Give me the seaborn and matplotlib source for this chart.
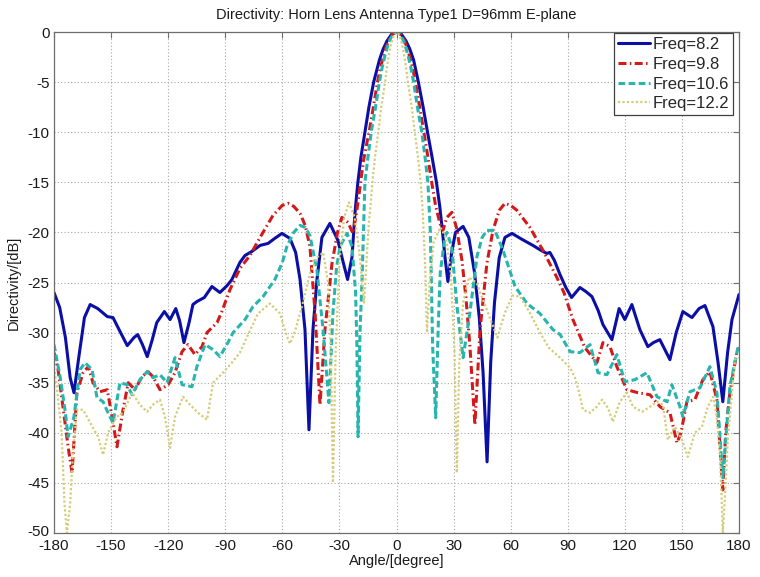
import matplotlib
matplotlib.use("Agg")
import matplotlib.pyplot as plt
import matplotlib.transforms as mtransforms
import seaborn as sns

# ---- E-plane directivity patterns (dB) of the horn lens antenna ----
angle_82 = [-180, -177, -174, -171.5, -169.5, -167, -164, -161, -157, -152, -149, -145, -141.5,
            -138, -136, -133.5, -131, -128.5, -126, -122, -119, -116, -114, -111.7, -109, -107,
            -104.9, -101, -97, -92.8, -89, -86.5, -82.3, -79.6, -76, -71.7, -67.5, -64, -60.2,
            -56, -53, -50.7, -48.1, -46, -43.9, -41.8, -39.2, -35, -30.8, -28, -25.7, -23.4,
            -21.8, -20.3, -18.7, -16.6, -14.5, -12, -9, -7, -5, -2.5, 0, 2.5, 5, 7, 9, 11.5, 14,
            16.3, 18.7, 21, 22.8, 24.2, 25.5, 27, 29, 31, 35, 38, 41, 43.5, 45.5, 47.6, 49.5, 51.5,
            54, 57, 60.7, 66, 71.7, 76, 79, 80.6, 83, 85.9, 89, 92, 96.4, 99.5, 102.7, 106, 108.5,
            113.2, 117, 120, 123.7, 127.9, 132.1, 135, 138.4, 143.7, 147, 150.5, 155.3, 159, 162.1,
            166.3, 169, 171.5, 174, 176.3, 180]
dir_82 = [-26.0, -27.5, -30.5, -34.5, -36.0, -32.5, -28.5, -27.2, -27.6, -28.4, -28.5, -30.0, -31.3,
          -30.5, -30.2, -31.2, -32.4, -30.8, -29.0, -27.9, -28.7, -27.6, -28.8, -31.0, -29.0, -27.2,
          -26.9, -26.5, -25.4, -26.0, -25.3, -24.7, -23.0, -22.3, -21.9, -21.3, -21.1, -20.6, -20.1,
          -20.6, -22.0, -24.7, -29.7, -39.7, -29.7, -24.7, -20.5, -19.1, -20.8, -23.0, -24.7, -22.5,
          -18.0, -15.0, -12.5, -10.0, -7.5, -5.0, -2.8, -1.7, -0.9, -0.2, 0.0, -0.2, -0.9, -1.7, -2.8, -5.0, -7.5,
          -10.0, -12.5, -15.0, -17.5, -20.0, -22.5, -24.9, -22.0, -20.0, -19.4, -20.5, -24.0, -28.5, -34.0, -42.9, -33.0, -27.0,
          -22.5, -20.5, -20.1, -20.7, -21.3, -21.8, -22.1, -22.0, -22.8, -24.2, -25.5, -26.5, -25.5, -25.9, -26.4, -27.8, -29.2,
          -30.7, -27.6, -28.7, -27.2, -29.7, -31.4, -31.0, -30.7, -32.7, -30.0, -27.9, -28.5, -27.6, -27.3,
          -29.4, -33.0, -36.9, -32.0, -28.7, -26.2]

angle_98 = [-180, -178, -175.3, -172.5, -170.5, -168, -164.7, -162, -159.5, -155.8, -152, -149.5, -146.9,
            -144, -141, -137.4, -133.8, -130.6, -128, -124.3, -120, -116.4, -112.7, -109.6, -105.9,
            -102.2, -99.6, -94.3, -92, -87.5, -82.3, -77, -71.7, -64.9, -60, -57, -54, -50.7, -48,
            -45.5, -42.8, -40.2, -37.6, -33.9, -31, -28.7, -25.5, -22.9, -21, -19.2, -17.5, -15.5,
            -14.4, -12, -10, -8.5, -7, -5.5, -4, -2, 0, 2, 4, 5.5, 7, 8.5, 10, 12, 14.4, 16.5, 18.5,
            20.5, 22.8, 24.4, 26.5, 29.1, 31.5, 34.4, 36.5, 38.6, 41.2, 43.9, 47.5, 50.7, 54, 57, 60,
            63.3, 70.1, 77, 84.3, 88, 92.7, 99, 105.3, 108.5, 112.2, 115.8, 121.1, 126.9, 133.2, 138.5,
            143.7, 147.4, 149.5, 152.6, 156.8, 161, 164.7, 168.4, 171.5, 173, 175.2, 178.9, 180]
dir_98 = [-32.0, -33.5, -37.4, -41.5, -44.0, -36.0, -34.0, -33.4, -35.0, -35.9, -35.7, -38.4, -41.4,
          -38.0, -35.0, -35.7, -34.4, -33.9, -34.4, -35.7, -35.2, -34.0, -31.9, -31.2, -32.2,
          -31.4, -30.0, -29.0, -28.0, -25.7, -23.6, -22.3, -20.5, -18.3, -17.3, -17.1, -17.4, -18.1, -19.3,
          -21.4, -28.0, -37.2, -29.7, -23.1, -20.0, -18.5, -19.0, -20.1, -18.0, -15.5, -13.0, -11.0,
          -10.0, -7.3, -5.0, -3.6, -2.5, -1.5, -0.8, -0.2, 0.0, -0.2, -0.8, -1.5, -2.5, -3.6, -5.0, -7.3, -10.0, -12.5, -15.0,
          -17.3, -19.1, -19.8, -18.5, -18.0, -19.5, -22.8, -26.5, -31.4, -39.2, -29.7, -23.1, -19.8, -17.8, -17.1, -17.3,
          -17.8, -19.5, -21.8, -24.5, -26.0, -28.7, -31.5, -33.0, -31.0, -31.4, -33.4, -35.7, -36.0, -36.2, -37.4,
          -38.0, -41.0, -40.0, -36.9, -36.7, -34.7, -33.9, -36.7, -45.7, -40.0, -36.0, -31.9, -31.5]

angle_106 = [-180, -176.8, -174, -172.6, -169.5, -166.3, -163.7, -160, -157.4, -154.2, -151.6, -149,
             -145.3, -141.6, -139, -134.8, -131.1, -128, -124.3, -120.6, -116.4, -112.7, -107.5,
             -104.9, -100.6, -96.4, -92.8, -88.6, -85.9, -79.6, -75.4, -70.1, -63.9, -60, -57.6, -54,
             -50.7, -48, -45.5, -41.8, -38.6, -35.5, -33.4, -31.5, -29.7, -26, -23.4, -21.5, -20.8,
             -20.2, -19.2, -18.1, -16.6, -15, -13.3, -11, -9, -7.5, -6, -4.5, -3, -1.5, 0, 1.5, 3, 4.5,
             6, 7.5, 9, 11, 13.3, 15, 16.5, 17.8, 19, 20.6, 22, 23, 25.4, 26.5, 29, 31.8, 35, 38.6, 42.3,
             45, 47.6, 51.7, 56, 59, 62.3, 68.6, 75.4, 82.2, 86, 91.2, 96.4, 101.7, 105.9, 110.6, 115.8,
             120, 125.3, 131.6, 136.9, 142.2, 144.7, 149, 150.5, 154.2, 159.5, 164.7, 168.4, 171.5,
             175.2, 179.4, 180]
dir_106 = [-31.2, -34.4, -38.0, -40.4, -38.4, -33.7, -33.0, -33.7, -36.5, -36.9, -38.0, -39.0,
           -35.0, -35.2, -36.2, -34.7, -33.9, -34.5, -34.2, -35.0, -32.5, -35.2, -35.4,
           -33.4, -31.2, -31.7, -32.4, -31.0, -30.0, -28.7, -27.4, -26.4, -24.7, -23.0, -21.4, -20.0,
           -19.3, -19.5, -20.3, -23.8, -29.7, -37.0, -28.0, -23.5, -21.4, -20.1, -21.4, -26.0, -31.4,
           -40.4, -30.0, -24.7, -15.0, -12.5, -10.0, -7.5, -5.0, -3.5, -2.3, -1.3, -0.6, -0.15, 0.0, -0.15, -0.6, -1.3,
           -2.3, -3.5, -5.0, -7.5, -10.0, -12.5, -15.0, -20.0, -31.4, -38.5, -29.0, -24.0, -20.5, -20.0, -21.4, -27.4, -32.5, -28.0, -22.4,
           -20.5, -19.8, -19.8, -21.8, -23.5, -25.4, -27.1, -28.1, -29.7, -30.2, -31.9, -32.0, -31.2, -34.0, -34.2, -32.2,
           -34.9, -34.7, -34.0, -36.4, -36.9, -35.2, -37.4, -38.4, -35.9, -35.5, -33.4, -36.0, -44.5,
           -35.4, -31.5, -31.3]

angle_122 = [-180, -178.5, -176, -174.5, -173.2, -171.5, -170, -168, -164.7, -161, -156.8, -154.2,
             -151.6, -147, -143.7, -139, -134.8, -131.1, -128, -124.3, -121.7, -119, -116.4, -112.2,
             -108.5, -104.3, -99.6, -96.4, -91.2, -86.5, -82.3, -78.5, -72.8, -66.5, -61.2, -57.6,
             -56, -53.4, -49.7, -45.5, -41.8, -38.5, -36, -34.5, -33.4, -32, -30, -27.5, -25, -22,
             -19.5, -17, -15.5, -14.5, -13.5, -12.7, -11.3, -9.6, -8, -6, -5, -4, -3, -2, -1, 0, 1, 2,
             3, 4, 5, 6, 8, 9.6, 11.3, 12.7, 13.8, 15, 16, 17.5, 19.5, 23, 26, 28.5, 30.5, 31.7, 33, 35,
             38, 42, 46, 50, 53, 57, 61, 65, 70, 75.4, 80, 85.9, 91.2, 93.8, 96, 98, 101.7, 105.3, 108,
             111.1, 113.7, 117.4, 121.1, 124.3, 129, 133.2, 136.9, 140, 142.6, 146.3, 150, 153.1,
             156.8, 160.5, 163.6, 166.3, 168, 170, 171.5, 173, 174.2, 177.9, 180]
dir_122 = [-33.5, -35.4, -40.0, -47.0, -50.0, -47.0, -42.0, -37.7, -37.7, -39.0, -40.4, -42.2,
           -40.0, -38.4, -38.0, -36.0, -37.2, -37.9, -37.2, -36.7, -38.4, -41.5, -38.4, -36.4,
           -37.2, -38.0, -38.7, -35.0, -34.0, -33.0, -32.0, -30.4, -28.1, -27.1, -28.1, -30.4,
           -31.1, -29.9, -27.4, -24.1, -22.5, -22.0, -25.0, -32.0, -45.0, -32.0, -23.0, -18.5, -17.0, -18.5,
           -22.0, -27.0, -22.0, -19.0, -17.0, -15.0, -12.5, -10.0, -7.5, -5.0, -3.5, -2.3, -1.3, -0.6, -0.15, 0.0, -0.15, -0.6,
           -1.3, -2.3, -3.5, -5.0, -7.5, -10.0, -12.5, -15.0, -18.0, -23.0, -30.0, -25.0, -21.0, -19.5, -20.5, -24.0, -32.0, -44.0, -33.0, -27.0,
           -24.5, -25.0, -27.0, -29.0, -30.5, -28.0, -26.3, -26.4, -28.0, -30.0, -31.5, -32.5, -33.5, -34.5, -36.0, -37.7, -38.0, -37.4, -36.7,
           -37.5, -38.9, -36.9, -36.0, -37.4, -37.9, -37.4, -36.9, -37.2, -40.7, -39.4, -40.7, -42.4,
           -40.0, -39.4, -37.4, -36.4, -38.0, -42.0, -50.0, -45.0, -40.4, -32.7, -32.5]

freq_labels = ["Freq=8.2", "Freq=9.8", "Freq=10.6", "Freq=12.2"]
x_ticks = list(range(-180, 181, 30))
y_ticks = list(range(-50, 1, 5))

sns.set_style("white")
plt.rcParams["font.family"] = ["Liberation Sans", "DejaVu Sans"]
plt.rcParams["axes.unicode_minus"] = False

fig = plt.figure(figsize=(7.6, 5.77), dpi=100)
ax = fig.add_axes([54 / 760, 1 - 533 / 577, 685 / 760, 501 / 577])

styles = [
    (angle_82, dir_82, "#0b0fa6", 2.2, "-"),
    (angle_98, dir_98, "#d21a1a", 2.2, (0, (2.6, 1.1, 0.5, 1.1))),
    (angle_106, dir_106, "#27b5ae", 2.2, (0, (2.2, 1.1))),
    (angle_122, dir_122, "#d4cc78", 1.6, (0, (1.0, 1.0))),
]
for (ang, val, col, lw, ls), lab in zip(styles, freq_labels):
    sns.lineplot(x=ang, y=val, ax=ax, color=col, linewidth=lw, linestyle=ls,
                 label=lab, sort=False, estimator=None)

ax.set_xlim(-180, 180)
ax.set_ylim(-50, 0)
ax.set_xticks(x_ticks)
ax.set_yticks(y_ticks)
ax.grid(True, linestyle=(0, (1, 2)), color="#a8a8a8", linewidth=0.8)
ax.set_axisbelow(True)
for sp in ax.spines.values():
    sp.set_color("#6e6e6e")
    sp.set_linewidth(0.9)
ax.tick_params(direction="in", length=4, top=True, right=True, color="#6e6e6e",
               labelsize=11, pad=3, labelcolor="#1a1a1a")
ax.tick_params(axis="x", pad=4)

# lift the lowest y tick label a little so it clears the first x tick label
fig.canvas.draw()
lowest = ax.get_yticklabels()[0]
lowest.set_transform(lowest.get_transform() +
                     mtransforms.ScaledTranslation(0, 3 / 100, fig.dpi_scale_trans))

ax.set_title("Directivity: Horn Lens Antenna Type1 D=96mm E-plane", fontsize=10.5,
             pad=9, color="#1a1a1a")
ax.set_xlabel("Angle/[degree]", fontsize=10.5, labelpad=1, color="#1a1a1a")
ax.set_ylabel("Directivity/[dB]", fontsize=10.5, labelpad=5, color="#1a1a1a")

leg = ax.legend(loc="upper right", bbox_to_anchor=(1 - 6 / 685, 1 - 1 / 501),
                borderaxespad=0, fontsize=12, frameon=True, fancybox=False,
                edgecolor="#404040", framealpha=1, handlelength=1.9,
                handletextpad=0.15, labelspacing=0.28, borderpad=0.25)
leg.get_frame().set_linewidth(0.9)

fig.savefig("out.png", dpi=100, facecolor="white")
